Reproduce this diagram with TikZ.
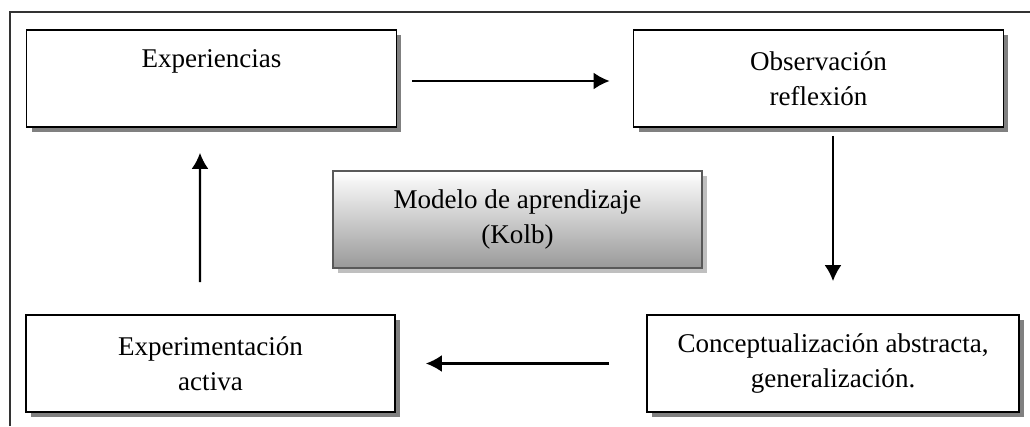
\documentclass[tikz,border=0pt]{standalone}
\usepackage{fontspec}
\setmainfont{Liberation Serif}
\usetikzlibrary{arrows.meta,shadows}

\begin{document}
\begin{tikzpicture}[x=0.02cm,y=-0.02cm]
\tikzstyle{every node}=[font=\fontsize{15.4}{20}\selectfont, align=center, inner sep=1pt]
\tikzstyle{box}=[draw, line width=1pt, fill=white, minimum width=7.4cm, minimum height=1.94cm,
  drop shadow={shadow xshift=0.1cm, shadow yshift=-0.1cm, fill=black!50, opacity=1}]
\tikzstyle{kolb}=[draw=black!65, line width=1.5pt, top color=white, bottom color=black!40,
  minimum width=7.38cm, minimum height=1.94cm,
  drop shadow={shadow xshift=0.1cm, shadow yshift=-0.1cm, fill=black!25, opacity=1}]
\tikzstyle{arr}=[line width=1.3pt, -{Latex[length=0.32cm,width=0.34cm]}]
\useasboundingbox (0,0) rectangle (1030,426);
\draw[line width=0.8pt, black!80] (10,426) -- (10,12) -- (1030,12);
\draw (211.5,78.5) node (b1) [box, text depth=0.78cm] {Experiencias};
\draw (818.5,78.5) node (b2) [box] {Observación\\reflexión};
\draw (833,363.5) node (b3) [box, minimum width=7.44cm] {Conceptualización abstracta,\\generalización.};
\draw (210.5,363.5) node (b4) [box, minimum width=7.38cm] {Experimentación\\activa};
\draw (517.5,219.5) node (m) [kolb] {Modelo de aprendizaje\\(Kolb)};
\draw[arr, shorten <=0.3cm, shorten >=0.46cm] ([yshift=-0.05cm]b1.east) -- ([yshift=-0.05cm]b2.west);
\draw[arr, shorten <=0.16cm, shorten >=0.66cm] (b2.south -| b3.north) -- (b3.north);
\draw[arr, shorten <=0.74cm, shorten >=0.6cm] (b3.west) -- (b4.east);
\draw[arr, shorten <=0.64cm, shorten >=0.5cm] ([xshift=-0.21cm]b4.north) -- ([xshift=-0.23cm]b1.south);
\end{tikzpicture}
\end{document}
